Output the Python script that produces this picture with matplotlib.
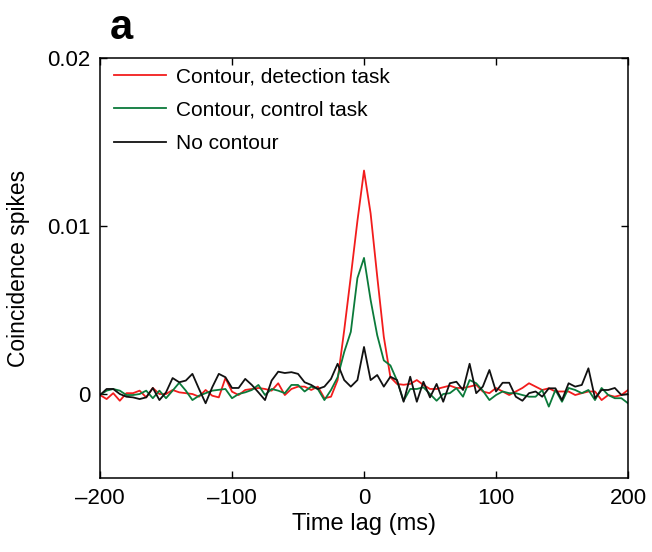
import numpy as np
import matplotlib
matplotlib.use("Agg")
import matplotlib.pyplot as plt

plt.rcParams['font.family'] = ['Liberation Sans', 'DejaVu Sans']

time_lag = list(range(-200, 201, 5))

detection = [
    -0.06, -0.3, 0.05, -0.4, 0.05, 0.05, 0.2, -0.2, 0.36, 0.0,
    0.0, 0.24, 0.1, 0.05, 0.0, -0.16, 0.24, -0.1, -0.2, 0.95,
    0.14, -0.06, 0.24, 0.3, 0.36, 0.3, 0.2, 0.64, -0.06, 0.3,
    0.44, 0.44, 0.24, 0.44, -0.25, -0.16, 0.83, 3.8, 7.0, 10.3,
    13.3, 10.75, 7.0, 3.4, 1.0, 0.6, 0.55, 0.6, 0.83, 0.54,
    0.3, 0.3, 0.4, 0.5, 0.36, 0.36, 0.44, 0.54, 0.15, 0.05,
    0.36, 0.15, -0.06, 0.15, 0.36, 0.64, 0.44, 0.24, 0.34, 0.15,
    0.15, 0.15, -0.06, 0.05, 0.15, 0.15, -0.36, -0.06, -0.16, -0.06,
    0.24]

control = [
    -0.06, 0.2, 0.3, 0.2, -0.06, -0.06, 0.0, 0.2, -0.25, 0.2,
    -0.25, 0.2, 0.67, 0.2, -0.36, -0.1, 0.05, 0.2, 0.25, 0.3,
    -0.25, 0.0, 0.1, 0.24, 0.54, -0.06, 0.3, 0.2, 0.05, 0.54,
    0.54, 0.15, 0.44, 0.3, -0.36, 0.24, 1.0, 2.5, 3.7, 6.9,
    8.1, 5.6, 3.5, 2.0, 1.7, 0.8, -0.4, 0.3, 0.3, 0.4,
    0.0, -0.4, 0.0, 0.05, 0.35, -0.16, 0.83, 0.64, 0.2, -0.36,
    -0.06, 0.15, 0.05, 0.05, -0.06, -0.16, -0.16, 0.24, -0.75, 0.24,
    -0.46, 0.36, 0.24, 0.05, 0.24, -0.36, 0.36, -0.06, -0.25, -0.25,
    -0.55]

no_contour = [
    -0.06, 0.3, 0.3, 0.0, -0.16, -0.2, -0.3, -0.2, 0.36, -0.36,
    0.1, 0.95, 0.7, 0.8, 1.2, 0.3, -0.55, 0.4, 1.2, 1.0,
    0.36, 0.36, 0.9, 0.54, 0.1, -0.36, 0.8, 1.33, 1.25, 1.3,
    1.2, 0.7, 0.54, 0.3, 0.44, 0.9, 1.8, 0.83, 0.44, 0.83,
    2.8, 0.83, 1.13, 0.44, 1.03, 0.83, -0.46, 1.03, -0.46, 0.73,
    -0.2, 0.6, -0.46, 0.64, 0.73, 0.24, 1.8, 0.05, 0.44, 1.43,
    0.15, 0.67, 0.67, -0.16, -0.4, 0.05, 0.15, -0.16, 0.34, 0.34,
    -0.36, 0.64, 0.44, 0.54, 1.53, -0.25, 0.24, 0.24, 0.36, -0.06,
    0.0]

labels = ["Contour, detection task", "Contour, control task", "No contour"]
colors = ["#f21c1c", "#0b7a3a", "#111111"]

fig = plt.figure(figsize=(6.52, 5.52), dpi=100)
ax = fig.add_axes([0.1534, 0.134, 0.8098, 0.761])

scale = 1e-3
for series, lab, col in zip([detection, control, no_contour], labels, colors):
    ax.plot(time_lag, np.array(series) * scale, color=col, lw=1.3, label=lab)

ax.set_xlim(-200, 200)
ax.set_ylim(-0.005, 0.02)
ax.set_xticks([-200, -100, 0, 100, 200])
ax.set_xticklabels(["\u2013200", "\u2013100", "0", "100", "200"])
ax.set_yticks([0, 0.01, 0.02])
ax.set_yticklabels(["0", "0.01", "0.02"])
ax.tick_params(direction='in', top=True, right=True, labelsize=16, length=5, width=1, pad=7)
for s in ax.spines.values():
    s.set_linewidth(1.1)

ax.set_xlabel("Time lag (ms)", fontsize=17, labelpad=3)
ax.set_ylabel("Coincidence spikes", fontsize=16.5, labelpad=12)

leg = ax.legend(loc='upper left', frameon=False, fontsize=15, handlelength=2.5,
                handletextpad=0.5, labelspacing=0.68, borderaxespad=0.0,
                bbox_to_anchor=(0.01, 0.997))

fig.text(0.168, 0.985, "a", fontsize=30, fontweight='bold', va='top', ha='left')

fig.savefig("out.png", dpi=100)
